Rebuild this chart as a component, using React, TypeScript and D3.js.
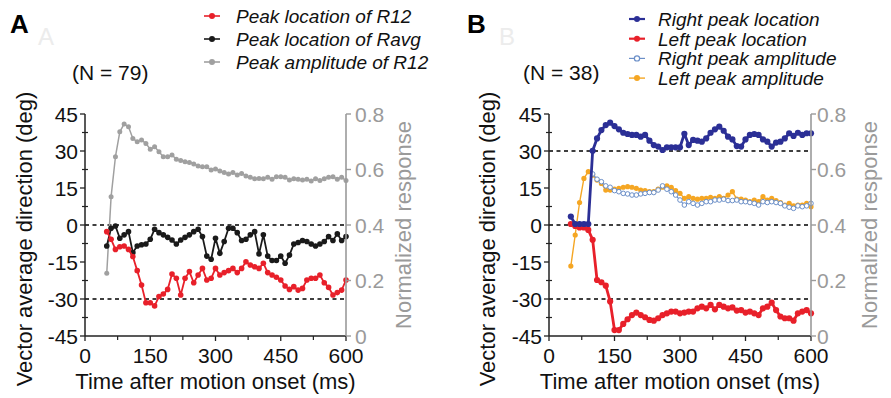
import React from "react";
import * as d3 from "d3";

const TIME = [50,60,70,80,90,100,110,120,130,140,150,160,170,180,190,200,210,220,230,240,250,260,270,280,290,300,310,320,330,340,350,360,370,380,390,400,410,420,430,440,450,460,470,480,490,500,510,520,530,540,550,560,570,580,590,600];

// Panel A
const A_R12_LOC = [-2.7,-5.8,-9.9,-8.8,-8.5,-9.9,-12.8,-18.5,-24.3,-31.5,-31.5,-32.8,-29.0,-28.0,-26.1,-19.9,-21.6,-28.4,-21.6,-18.9,-23.4,-20.3,-17.6,-22.3,-21.6,-17.6,-20.3,-19.3,-18.5,-17.6,-19.3,-17.6,-14.9,-16.2,-16.9,-17.6,-15.5,-19.3,-20.3,-21.2,-22.3,-24.7,-26.1,-25.0,-26.4,-25.7,-22.3,-21.6,-21.6,-20.3,-23.4,-25.3,-28.4,-27.4,-26.4,-22.3];
const A_RAVG_LOC = [-8.5,-1.3,-0.4,-5.4,-4.0,-2.7,-11.2,-8.5,-8.0,-7.7,-5.8,-1.7,-3.1,-4.0,-5.0,-6.1,-7.7,-6.1,-5.0,-4.0,-2.7,-1.7,-4.7,-12.6,-13.9,-5.4,-11.5,-6.7,-1.3,-1.3,-3.1,-6.3,-5.8,-4.0,-2.7,-11.7,-4.0,-12.6,-14.4,-14.4,-12.6,-15.5,-12.2,-7.7,-7.1,-6.3,-6.7,-7.7,-8.5,-7.7,-6.7,-4.7,-6.3,-3.6,-6.3,-4.7];
const A_R12_AMP = [0.226,0.502,0.646,0.736,0.764,0.754,0.712,0.700,0.706,0.694,0.673,0.682,0.664,0.646,0.646,0.652,0.637,0.632,0.628,0.625,0.620,0.613,0.610,0.610,0.598,0.602,0.595,0.589,0.584,0.589,0.580,0.586,0.577,0.572,0.567,0.568,0.567,0.572,0.565,0.574,0.574,0.572,0.562,0.567,0.565,0.562,0.565,0.559,0.567,0.560,0.567,0.572,0.574,0.565,0.572,0.560];

// Panel B
const B_RIGHT_LOC = [3.4,0.4,0.4,0.4,0.4,30.1,35.1,38.5,40.5,41.5,40.1,38.8,37.4,36.9,36.5,36.5,35.8,36.5,34.2,32.4,31.8,30.4,31.5,31.5,31.5,31.5,37.0,32.4,34.5,34.2,33.8,35.1,37.4,38.8,39.9,38.2,35.8,34.7,32.0,31.8,34.7,36.5,36.9,36.5,34.7,33.8,31.8,33.4,33.8,35.1,37.2,36.1,37.4,36.5,37.2,37.2];
const B_LEFT_LOC = [0.4,-0.4,-1.0,-1.0,-2.0,-6.0,-22.3,-23.2,-24.6,-31.0,-42.6,-42.6,-40.1,-38.2,-36.5,-35.5,-36.5,-37.4,-38.5,-38.8,-37.8,-36.5,-35.8,-35.1,-35.1,-35.8,-35.5,-35.1,-35.1,-33.8,-33.1,-33.8,-32.4,-34.2,-32.4,-33.1,-33.8,-33.4,-34.7,-34.5,-35.5,-35.1,-35.8,-36.5,-33.8,-33.1,-31.5,-34.5,-37.1,-37.8,-37.8,-38.8,-35.8,-35.1,-34.5,-35.8];
const B_RIGHT_AMP = [null,null,null,null,null,0.584,0.565,0.556,0.541,0.536,0.524,0.520,0.514,0.512,0.508,0.508,0.512,0.514,0.517,0.517,0.526,0.541,0.529,0.520,0.508,0.490,0.472,0.484,0.478,0.472,0.478,0.484,0.484,0.490,0.490,0.493,0.488,0.488,0.490,0.484,0.484,0.481,0.478,0.472,0.484,0.481,0.484,0.481,0.478,0.469,0.464,0.460,0.469,0.466,0.469,0.478];
const B_LEFT_AMP = [0.252,0.364,0.481,0.568,0.592,0.580,0.562,0.550,0.526,0.526,0.529,0.532,0.536,0.538,0.536,0.532,0.526,0.524,0.520,0.520,0.529,0.536,0.541,0.536,0.524,0.514,0.496,0.502,0.496,0.493,0.496,0.496,0.500,0.496,0.502,0.496,0.508,0.520,0.493,0.493,0.490,0.484,0.490,0.484,0.502,0.490,0.496,0.488,0.481,0.472,0.478,0.469,0.472,0.472,0.478,0.466];

const DEG_TICKS = [-45,-30,-15,0,15,30,45];
const DEG_MINOR = [-37.5,-22.5,-7.5,7.5,22.5,37.5];
const TIME_TICKS = [0,150,300,450,600];
const TIME_MINOR = [75,225,375,525];
const RESP_TICKS = [0,0.2,0.4,0.6,0.8];

const FONT = "'Liberation Sans', Arial, Helvetica, sans-serif";
const GRAY = "#9a9a9a";
const TOP = 114;
const BOTTOM = 336;

type Series = {
  values: (number | null)[];
  axis: "L" | "R";
  color: string;
  width: number;
  r: number;
  open?: boolean;
};

type LegendItem = { label: string; color: string; open?: boolean; width: number };

function Panel(props: {
  left: number; right: number; letter: string; n: string;
  letterX: number; ghostX: number; nX: number;
  series: Series[]; dashes: number[];
  legend: LegendItem[]; legX: number; legTextX: number; legY0: number; legDy: number;
  yTitleX: number; rTitleX: number; rLabelGap: number;
}) {
  const { left, right } = props;
  const x = d3.scaleLinear().domain([0, 600]).range([left, right]);
  const yL = d3.scaleLinear().domain([-45, 45]).range([BOTTOM, TOP]);
  const yR = d3.scaleLinear().domain([0, 0.8]).range([BOTTOM, TOP]);

  return (
    <g>
      <text x={props.letterX} y={33} fontFamily={FONT} fontWeight="bold" fontSize={26} fill="#000">{props.letter}</text>
      <text x={props.ghostX} y={45} fontFamily={FONT} fontSize={24} fill="#ececec">{props.letter}</text>
      <text x={props.nX} y={80} fontFamily={FONT} fontSize={21} fill="#111">{props.n}</text>

      {/* legend */}
      {props.legend.map((it, i) => {
        const cy = props.legY0 + i * props.legDy;
        return (
          <g key={i}>
            <line x1={props.legX - 8} x2={props.legX + 8} y1={cy} y2={cy} stroke={it.color} strokeWidth={it.width} />
            <circle cx={props.legX} cy={cy} r={it.open ? 2.6 : 3} fill={it.open ? "#fff" : it.color} stroke={it.color} strokeWidth={it.open ? 1.2 : 0} />
            <text x={props.legTextX} y={cy + 7} fontFamily={FONT} fontStyle="italic" fontSize={19} fill="#111">{it.label}</text>
          </g>
        );
      })}

      {/* dashed reference lines */}
      {props.dashes.map((d) => (
        <line key={d} x1={left} x2={right} y1={yL(d)} y2={yL(d)} stroke="#000" strokeWidth={1.4} strokeDasharray="4,3.5" />
      ))}

      {/* series */}
      {props.series.map((s, si) => {
        const sc = s.axis === "L" ? yL : yR;
        const pts = TIME.map((t, i) => ({ t, v: s.values[i] })).filter((p) => p.v !== null) as { t: number; v: number }[];
        const line = d3.line<{ t: number; v: number }>().x((p) => x(p.t)).y((p) => sc(p.v));
        return (
          <g key={si}>
            <path d={line(pts) || ""} fill="none" stroke={s.color} strokeWidth={s.width} strokeLinejoin="round" />
            {pts.map((p, i) => (
              <circle key={i} cx={x(p.t)} cy={sc(p.v)} r={s.r} fill={s.open ? "#fff" : s.color} stroke={s.color} strokeWidth={s.open ? 1 : 0} />
            ))}
          </g>
        );
      })}

      {/* left axis */}
      <line x1={left} x2={left} y1={TOP} y2={BOTTOM} stroke="#222" strokeWidth={1.5} />
      {DEG_TICKS.map((t) => (
        <g key={t}>
          <line x1={left - 5} x2={left} y1={yL(t)} y2={yL(t)} stroke="#222" strokeWidth={1.3} />
          <text x={left - 7} y={yL(t)} dy="0.36em" textAnchor="end" fontFamily={FONT} fontSize={21} fill="#111">{t}</text>
        </g>
      ))}
      {DEG_MINOR.map((t) => (
        <line key={t} x1={left - 3} x2={left + 3} y1={yL(t)} y2={yL(t)} stroke="#222" strokeWidth={1.2} />
      ))}

      {/* bottom axis */}
      <line x1={left} x2={right} y1={BOTTOM} y2={BOTTOM} stroke="#222" strokeWidth={1.5} />
      {TIME_TICKS.map((t) => (
        <g key={t}>
          <line x1={x(t)} x2={x(t)} y1={BOTTOM} y2={BOTTOM + 5} stroke="#222" strokeWidth={1.3} />
          <text x={x(t)} y={363} textAnchor="middle" fontFamily={FONT} fontSize={21} fill="#111">{t}</text>
        </g>
      ))}
      {TIME_MINOR.map((t) => (
        <line key={t} x1={x(t)} x2={x(t)} y1={BOTTOM} y2={BOTTOM + 4} stroke="#222" strokeWidth={1.2} />
      ))}

      {/* right axis */}
      <line x1={right} x2={right} y1={TOP} y2={BOTTOM} stroke={GRAY} strokeWidth={1.6} />
      {RESP_TICKS.map((t) => (
        <g key={t}>
          <line x1={right} x2={right + 5} y1={yR(t)} y2={yR(t)} stroke={GRAY} strokeWidth={1.4} />
          <text x={right + props.rLabelGap} y={yR(t)} dy="0.36em" fontFamily={FONT} fontSize={21} fill={GRAY}>{t === 0 ? "0" : t.toFixed(1)}</text>
        </g>
      ))}

      {/* titles */}
      <text x={(left + right) / 2} y={389} textAnchor="middle" fontFamily={FONT} fontSize={22} fill="#111">Time after motion onset (ms)</text>
      <text transform={`translate(${props.yTitleX},${(TOP + BOTTOM) / 2 + 14}) rotate(-90)`} textAnchor="middle" fontFamily={FONT} fontSize={22} fill="#111">Vector average direction (deg)</text>
      <text transform={`translate(${props.rTitleX},${(TOP + BOTTOM) / 2}) rotate(-90)`} textAnchor="middle" fontFamily={FONT} fontSize={22} fill={GRAY}>Normalized response</text>
    </g>
  );
}

export default function App() {
  const RED = "#e8202a";
  const BLACK = "#1a1a1a";
  const BLUE = "#2b2f96";
  const ORANGE = "#f5a623";
  const LBLUE = "#6b8fc8";

  const seriesA: Series[] = [
    { values: A_R12_AMP, axis: "R", color: "#a0a0a0", width: 1.5, r: 2.5 },
    { values: A_RAVG_LOC, axis: "L", color: BLACK, width: 1.8, r: 2.8 },
    { values: A_R12_LOC, axis: "L", color: RED, width: 1.8, r: 2.8 },
  ];
  const seriesB: Series[] = [
    { values: B_LEFT_AMP, axis: "R", color: ORANGE, width: 1.4, r: 2.6 },
    { values: B_RIGHT_AMP, axis: "R", color: LBLUE, width: 1.1, r: 2.3, open: true },
    { values: B_LEFT_LOC, axis: "L", color: RED, width: 2.8, r: 3.1 },
    { values: B_RIGHT_LOC, axis: "L", color: BLUE, width: 2.8, r: 3.1 },
  ];

  return (
    <svg width={891} height={398} style={{ position: "absolute", left: 0, top: 0, background: "#fff" }}>
      <rect x={0} y={0} width={891} height={398} fill="#fff" />
      <Panel
        left={85} right={346} letter="A" n="(N = 79)" letterX={10} ghostX={38} nX={72}
        series={seriesA} dashes={[0, -30]}
        legend={[
          { label: "Peak location of R12", color: RED, width: 1.6 },
          { label: "Peak location of Ravg", color: BLACK, width: 1.6 },
          { label: "Peak amplitude of R12", color: "#a0a0a0", width: 1.6 },
        ]}
        legX={212} legTextX={236} legY0={16} legDy={23}
        yTitleX={32} rTitleX={411} rLabelGap={9}
      />
      <Panel
        left={549} right={811} letter="B" n="(N = 38)" letterX={467} ghostX={499} nX={523}
        series={seriesB} dashes={[30, 0, -30]}
        legend={[
          { label: "Right peak location", color: BLUE, width: 2.2 },
          { label: "Left peak location", color: RED, width: 2.2 },
          { label: "Right peak amplitude", color: LBLUE, open: true, width: 1.2 },
          { label: "Left peak amplitude", color: ORANGE, width: 1.4 },
        ]}
        legX={637} legTextX={658} legY0={19} legDy={19.7}
        yTitleX={495} rTitleX={877} rLabelGap={6}
      />
    </svg>
  );
}
